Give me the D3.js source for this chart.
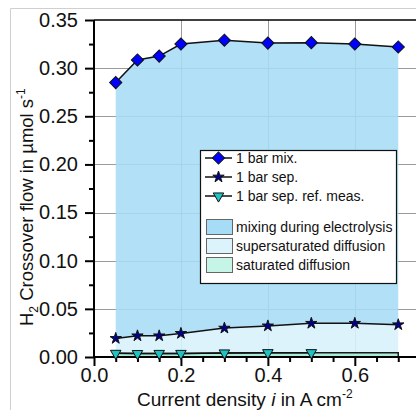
<!DOCTYPE html>
<head>
  <meta charset="utf-8">
  <script src="https://d3js.org/d3.v7.min.js"></script>
</head>
<style>
  body { margin: 0; background: #fff; }
  text { font-family: "Liberation Sans", Arial, sans-serif; }
</style>
<body>
<div id="chart"></div>
<script>
var currentMix = [0.05, 0.1, 0.15, 0.2, 0.3, 0.4, 0.5, 0.6, 0.7];
var flowMix    = [0.285, 0.3085, 0.3125, 0.325, 0.329, 0.326, 0.3265, 0.325, 0.322];
var currentSep = [0.05, 0.1, 0.15, 0.2, 0.3, 0.4, 0.5, 0.6, 0.7];
var flowSep    = [0.0193, 0.022, 0.022, 0.0245, 0.030, 0.0323, 0.035, 0.035, 0.0335];
var currentRef = [0.05, 0.1, 0.15, 0.2, 0.3, 0.4, 0.5];
var flowRef    = [0.0038, 0.0036, 0.0037, 0.0037, 0.0042, 0.0045, 0.0045];
// saturated diffusion band (top edge carried on flat to 0.7)
var currentSat = [0.05, 0.1, 0.15, 0.2, 0.3, 0.4, 0.5, 0.7];
var flowSat    = [0.0038, 0.0036, 0.0037, 0.0037, 0.0042, 0.0045, 0.0045, 0.0045];

var xTicks = [0, 0.2, 0.4, 0.6];
var yTicks = [0, 0.05, 0.1, 0.15, 0.2, 0.25, 0.3, 0.35];

var W = 416, H = 410;
var svg = d3.select("#chart").append("svg").attr("width", W).attr("height", H);

var x = d3.scaleLinear().domain([0, 0.75]).range([94, 420]);
var y = d3.scaleLinear().domain([0, 0.35]).range([357, 20]);

// screenshot frame
svg.append("path").attr("d", "M10.5," + H + "V8.5H" + W).attr("fill", "none").attr("stroke", "#cfcfcf");

var mix = currentMix.map((c, i) => ({x: c, y: flowMix[i]}));
var sep = currentSep.map((c, i) => ({x: c, y: flowSep[i]}));
var ref = currentRef.map((c, i) => ({x: c, y: flowRef[i]}));
var sat = currentSat.map((c, i) => ({x: c, y: flowSat[i]}));

// grid
var grid = svg.append("g").attr("stroke", "#9a9a9a").attr("stroke-width", 1);
grid.selectAll(".gy").data(yTicks.filter(d => d > 0 && d < 0.35)).enter().append("line")
  .attr("x1", x(0)).attr("x2", W).attr("y1", d => Math.round(y(d)) + .5).attr("y2", d => Math.round(y(d)) + .5);
grid.selectAll(".gx").data(xTicks.filter(d => d > 0)).enter().append("line")
  .attr("y1", y(0)).attr("y2", y(0.35)).attr("x1", d => Math.round(x(d)) + .5).attr("x2", d => Math.round(x(d)) + .5);

// areas: mixing between sep and mix, supersaturated between sat and sep, saturated below
var sepAt = c => flowSep[currentSep.indexOf(c)];
var satAt = d3.scaleLinear().domain(currentSat).range(flowSat);

svg.append("path").datum(mix)
  .attr("fill", "#a6dcf6").attr("fill-opacity", 0.88)
  .attr("d", d3.area().x(d => x(d.x)).y1(d => y(d.y)).y0(d => y(sepAt(d.x))));
svg.append("path").datum(sep)
  .attr("fill", "#d8f2fc").attr("fill-opacity", 0.9)
  .attr("d", d3.area().x(d => x(d.x)).y1(d => y(d.y)).y0(d => y(satAt(d.x))));
svg.append("path").datum(sat)
  .attr("fill", "#a9ecd9")
  .attr("d", d3.area().x(d => x(d.x)).y1(d => y(d.y)).y0(y(0)));
// saturated band outline (top + right edge)
var last = sat[sat.length - 1];
svg.append("path")
  .attr("d", d3.line().x(d => x(d.x)).y(d => y(d.y))(sat) + "L" + x(last.x) + "," + y(0))
  .attr("fill", "none").attr("stroke", "#1a1a1a").attr("stroke-width", 1.5);

// axes
var yAxis = d3.axisLeft(y).tickValues(yTicks).tickSize(9).tickPadding(7).tickFormat(d3.format(".2f"));
var yMinor = d3.axisLeft(y).tickValues(d3.range(0.025, 0.35, 0.05)).tickSize(5).tickFormat("");
var xAxis = d3.axisBottom(x).tickValues(xTicks).tickSize(9).tickPadding(2).tickFormat(d3.format(".1f"));
var xMinor = d3.axisBottom(x).tickValues([0.05, 0.1, 0.15, 0.25, 0.3, 0.35, 0.45, 0.5, 0.55, 0.65, 0.7]).tickSize(5).tickFormat("");

function style(g) {
  g.select(".domain").remove();
  g.selectAll("line").attr("stroke", "#000").attr("stroke-width", 2);
  g.selectAll("text").attr("font-size", "20px").attr("fill", "#111");
}
svg.append("g").attr("transform", "translate(" + x(0) + ",0)").call(yMinor).call(style);
svg.append("g").attr("transform", "translate(" + x(0) + ",0)").call(yAxis).call(style);
svg.append("g").attr("transform", "translate(0," + y(0) + ")").call(xMinor).call(style);
svg.append("g").attr("transform", "translate(0," + y(0) + ")").call(xAxis).call(style);
svg.append("line").attr("x1", x(0)).attr("x2", x(0)).attr("y1", y(0.35)).attr("y2", y(0)).attr("stroke", "#000").attr("stroke-width", 2);
svg.append("line").attr("x1", x(0)).attr("x2", W).attr("y1", y(0)).attr("y2", y(0)).attr("stroke", "#000").attr("stroke-width", 2);
svg.append("line").attr("x1", x(0)).attr("x2", W).attr("y1", y(0.35)).attr("y2", y(0.35)).attr("stroke", "#000").attr("stroke-width", 1.5);

// series
var line = d3.line().x(d => x(d.x)).y(d => y(d.y));
var series = [
  {data: mix, symbol: d3.symbolSquare, size: 74, rot: 45, fill: "#0000ff", name: "1 bar mix."},
  {data: sep, symbol: d3.symbolStar, size: 40, rot: 0, fill: "#00008b", name: "1 bar sep."},
  {data: ref, symbol: d3.symbolTriangle, size: 48, rot: 180, fill: "#1fc3c3", name: "1 bar sep. ref. meas."}
];
series.forEach(function(s) {
  svg.append("path").datum(s.data).attr("d", line).attr("fill", "none").attr("stroke", "#111").attr("stroke-width", 1.5);
  svg.append("g").selectAll("path").data(s.data).enter().append("path")
    .attr("d", d3.symbol().type(s.symbol).size(s.size))
    .attr("transform", d => "translate(" + x(d.x) + "," + y(d.y) + ") rotate(" + s.rot + ")")
    .attr("fill", s.fill).attr("stroke", "#111").attr("stroke-width", 1);
});

// axis titles
var xt = svg.append("text").attr("x", 137).attr("y", 406).attr("font-size", "19px").attr("fill", "#111");
xt.append("tspan").text("Current density ");
xt.append("tspan").attr("font-style", "italic").text("i");
xt.append("tspan").text(" in A cm");
xt.append("tspan").attr("font-size", "12px").attr("dy", -8).text("-2");

var yt = svg.append("text").attr("transform", "translate(33,326) rotate(-90)").attr("font-size", "18.5px").attr("fill", "#111");
yt.append("tspan").text("H");
yt.append("tspan").attr("font-size", "12px").attr("dy", 5).text("2");
yt.append("tspan").attr("dy", -5).text(" Crossover flow in \u00b5mol s");
yt.append("tspan").attr("font-size", "12px").attr("dy", -8).text("-1");

// legend
var lg = svg.append("g");
lg.append("rect").attr("x", 200.5).attr("y", 150.5).attr("width", 196).attr("height", 133)
  .attr("fill", "#fff").attr("stroke", "#111").attr("stroke-width", 1.2);
var rowsY = [158, 177, 196];
series.forEach(function(s, i) {
  lg.append("line").attr("x1", 205).attr("x2", 232).attr("y1", rowsY[i]).attr("y2", rowsY[i]).attr("stroke", "#111").attr("stroke-width", 1.5);
  lg.append("path").attr("d", d3.symbol().type(s.symbol).size(s.size))
    .attr("transform", "translate(218.5," + rowsY[i] + ") rotate(" + s.rot + ")")
    .attr("fill", s.fill).attr("stroke", "#111").attr("stroke-width", 1);
  lg.append("text").attr("x", 236).attr("y", rowsY[i] + 5).attr("font-size", "14px").attr("fill", "#111").text(s.name);
});
var bands = [
  {name: "mixing during electrolysis", fill: "#a6dcf6"},
  {name: "supersaturated diffusion", fill: "#dcf3fc"},
  {name: "saturated diffusion", fill: "#c6f5e8"}
];
var bandY = [227, 246, 265];
bands.forEach(function(b, i) {
  lg.append("rect").attr("x", 206.5).attr("y", bandY[i] - 7.5).attr("width", 26).attr("height", 15)
    .attr("fill", b.fill).attr("stroke", "#666").attr("stroke-width", 1);
  lg.append("text").attr("x", 236).attr("y", bandY[i] + 5).attr("font-size", "14px").attr("fill", "#111").text(b.name);
});
</script>
</body>
